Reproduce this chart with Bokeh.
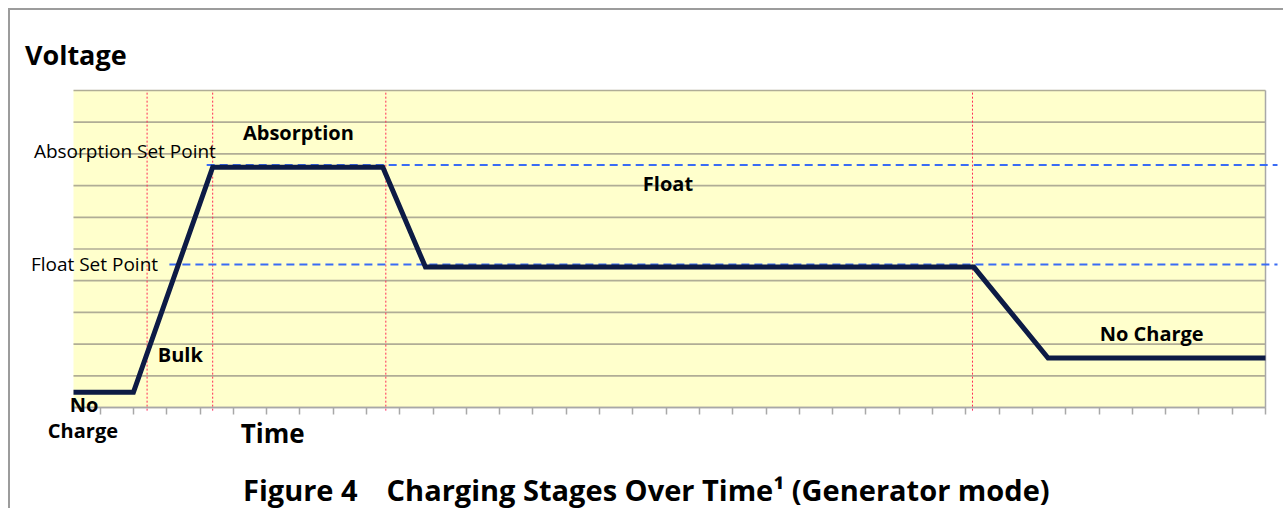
from bokeh.plotting import figure
from bokeh.models import Range1d, FixedTicker, Label, LinearAxis
from bokeh.embed import file_html
from bokeh.resources import INLINE

# ---- data ----
stage_times = [-0.8, 1.0, 3.38, 8.49, 9.77, 26.24, 28.47, 35.0]
stage_volts = [0.48, 0.48, 7.58, 7.58, 4.43, 4.43, 1.56, 1.56]
stage_bounds = [1.41, 3.38, 8.58, 26.2]
set_point_names = ["Absorption Set Point", "Float Set Point"]
set_point_levels = [7.65, 4.51]
set_point_starts = [3.2, 2.08]
time_ticks = list(range(0, 36))
volt_grid = list(range(0, 11))
stage_names = ["Absorption", "Float", "Bulk", "No Charge"]

# chart area (data units) and the canvas range around it
X_LEFT, X_RIGHT = -0.8, 35.0
Y_BOTTOM, Y_TOP = 0.0, 10.0
PX_X = 33.296   # pixels per time unit
PX_Y = 31.7     # pixels per volt unit

p = figure(width=1275, height=500,
           x_range=Range1d(X_LEFT - 63 / PX_X, X_RIGHT + 20 / PX_X),
           y_range=Range1d(Y_BOTTOM - 103 / PX_Y, Y_TOP + 80 / PX_Y),
           output_backend="svg", toolbar_location=None,
           x_axis_location=None, y_axis_location=None,
           min_border=0)
p.styles = {"border-top": "2px solid #9c9c9c", "border-left": "2px solid #9c9c9c",
            "margin-left": "8px", "margin-top": "8px"}
p.background_fill_color = "white"
p.border_fill_color = "white"
p.outline_line_color = None
p.grid.visible = False

# chart background
p.quad(left=[X_LEFT], right=[X_RIGHT], bottom=[Y_BOTTOM], top=[Y_TOP],
       fill_color="#ffffcc", line_color=None)

# horizontal grid lines
p.segment(x0=[X_LEFT] * len(volt_grid), x1=[X_RIGHT] * len(volt_grid),
          y0=volt_grid, y1=volt_grid, line_color="#b0ad96", line_width=1.7)
# right edge of the chart area
p.segment(x0=[X_RIGHT], x1=[X_RIGHT], y0=[Y_BOTTOM], y1=[Y_TOP],
          line_color="#a8a8a8", line_width=1.5)

# bottom time axis
xaxis = LinearAxis(ticker=FixedTicker(ticks=time_ticks), fixed_location=Y_BOTTOM,
                   bounds=(X_LEFT, X_RIGHT))
xaxis.axis_line_color = "#a8a8a8"
xaxis.axis_line_width = 1.5
xaxis.major_tick_line_color = "#a8a8a8"
xaxis.major_tick_line_width = 1.5
xaxis.major_tick_in = 0
xaxis.major_tick_out = 7
xaxis.minor_tick_line_color = None
xaxis.major_label_text_color = None
p.add_layout(xaxis, "below")

# stage boundaries (red dotted)
p.segment(x0=stage_bounds, x1=stage_bounds, y0=[Y_BOTTOM - 0.1] * len(stage_bounds),
          y1=[Y_TOP] * len(stage_bounds), line_color="#ff2a55", line_width=1, line_dash="2 2")

# set point lines (blue dashed)
p.segment(x0=set_point_starts, x1=[X_RIGHT + 12 / PX_X] * len(set_point_starts),
          y0=set_point_levels, y1=set_point_levels,
          line_color="#3a6cf4", line_width=2, line_dash="8 5")

# voltage profile
p.line(stage_times, stage_volts, line_color="#0d1b45", line_width=5, line_join="miter")

FONT = "Open Sans"

def lab(x, y, text, size, bold=True):
    # y is the baseline; lift slightly to compensate the renderer's baseline offset
    y_adj = y + 0.42 * size / PX_Y
    p.add_layout(Label(x=x, y=y_adj, text=text, text_font=FONT, text_font_size=f"{size}px",
                       text_font_style="bold" if bold else "normal",
                       text_color="black", text_align="left", text_baseline="alphabetic"))

# axis titles
lab(-2.26, 10.79, "Voltage", 27)
lab(4.22, -1.14, "Time", 26)

# set point labels
lab(-1.99, 7.85, set_point_names[0], 19, bold=False)
lab(-2.08, 4.29, set_point_names[1], 19, bold=False)

# stage labels
lab(4.29, 8.42, stage_names[0], 20)
lab(16.3, 6.81, stage_names[1], 20)
lab(1.73, 1.42, stage_names[2], 20)
lab(30.02, 2.08, stage_names[3], 20)
lab(-0.91, -0.16, "No", 20)
lab(-1.57, -0.98, "Charge", 20)

# figure caption
lab(4.29, -2.97, "Figure 4\u2003Charging Stages Over Time\u00b9 (Generator mode)", 29)

open("out.html", "w").write(file_html(p, INLINE))
